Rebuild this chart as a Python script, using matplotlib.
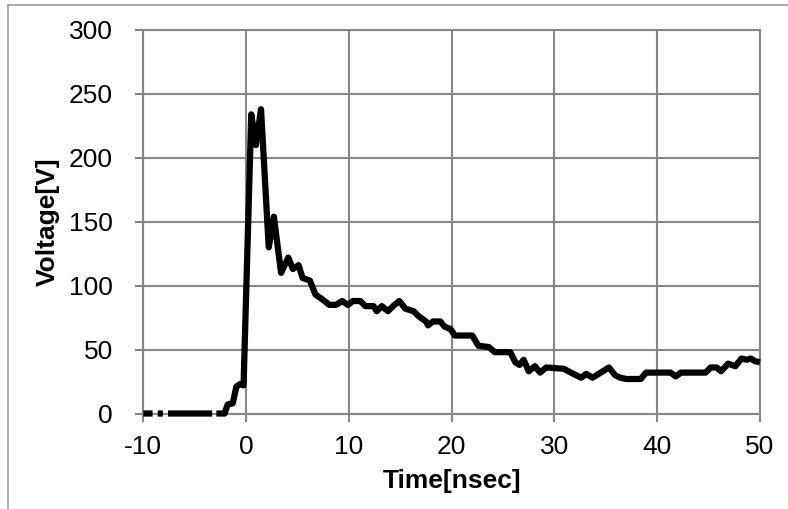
import numpy as np
import matplotlib
matplotlib.use('Agg')
import matplotlib.pyplot as plt
from matplotlib.lines import Line2D

# pulse waveform (time in ns, voltage in V)
time_ns = [-10, -9.1, -9.0, -8.6, -8.1, -8.0, -7.6, -3.3, -3.2, -2.9, -2.1,
           -1.8, -1.3, -0.95, -0.6, -0.25, 0.5, 0.95, 1.45, 2.2, 2.7, 3.4,
           4.1, 4.55, 5.1, 5.5, 6.2, 6.75, 7.3, 8.1, 8.75, 9.35, 9.9, 10.4,
           11.1, 11.6, 12.4, 12.7, 13.2, 13.8, 14.3, 14.9, 15.5, 16.3, 16.8,
           17.5, 17.7, 18.2, 18.9, 19.3, 19.9, 20.3, 22.0, 22.6, 23.6, 24.2,
           25.7, 26.2, 26.6, 27.0, 27.5, 28.1, 28.6, 29.2, 30.9, 31.6, 32.6,
           33.1, 33.7, 34.3, 35.3, 35.9, 36.4, 37.0, 38.4, 38.9, 41.3, 41.8,
           42.3, 44.7, 45.2, 45.8, 46.2, 46.9, 47.6, 48.2, 48.7, 49.1, 49.5,
           50]
voltage = [0, 0, -1, 0, 0, -1, 0, 0, -1, 0, 0,
           7, 8, 21, 23, 22, 234, 210, 238, 130, 154, 110,
           122, 113, 116, 106, 104, 93, 90, 85, 85, 88, 85, 88,
           88, 84, 84, 80, 84, 80, 84, 88, 82, 80, 76,
           72, 69, 72, 72, 68, 66, 61, 61, 53, 52, 48,
           48, 40, 38, 42, 33, 37, 32, 36, 35, 32, 28,
           31, 28, 31, 36, 30, 28, 27, 27, 32, 32, 29,
           32, 32, 36, 36, 33, 39, 37, 43, 42, 43, 41,
           40]

x_ticks = [-10, 0, 10, 20, 30, 40, 50]
y_ticks = [0, 50, 100, 150, 200, 250, 300]

plt.rcParams['font.family'] = ['Liberation Sans', 'DejaVu Sans']
plt.rcParams['axes.unicode_minus'] = False
GRID = '#878787'

fig = plt.figure(figsize=(7.88, 5.09), dpi=100)
ax = fig.add_axes([0.1819, 0.1876, 0.9645 - 0.1819, 0.9411 - 0.1876])

# Excel drops the parts of the trace below the axis minimum
v = np.ma.masked_less(np.array(voltage, dtype=float), 0)
ax.plot(time_ns, v, color='black', lw=4.5, solid_joinstyle='round',
        solid_capstyle='butt', clip_on=False, zorder=3)

ax.set_xlim(-10, 50)
ax.set_ylim(0, 300)
ax.set_xticks(x_ticks)
ax.set_yticks(y_ticks)
ax.grid(True, color=GRID, lw=1.5)
ax.set_axisbelow(True)
for s in ax.spines.values():
    s.set_color(GRID)
    s.set_linewidth(1.5)
ax.tick_params(axis='both', direction='out', length=5.8, width=1.5,
               color=GRID, labelsize=19, labelcolor='black')
ax.tick_params(axis='y', pad=16)
ax.tick_params(axis='x', pad=10)

ax.set_xlabel('Time[nsec]', fontsize=19, fontweight='bold', labelpad=7)
ax.set_ylabel('Voltage[V]', fontsize=19, fontweight='bold', labelpad=7)

# chart-area border (only left and top edges fall inside the image)
bx, by = 8 / 788, 1 - 5 / 509
fig.add_artist(Line2D([bx, bx], [0, by], color='#a0a0a0', lw=1.2))
fig.add_artist(Line2D([bx, 1], [by, by], color='#a0a0a0', lw=1.2))

fig.savefig('out.png', dpi=100, facecolor='white')
